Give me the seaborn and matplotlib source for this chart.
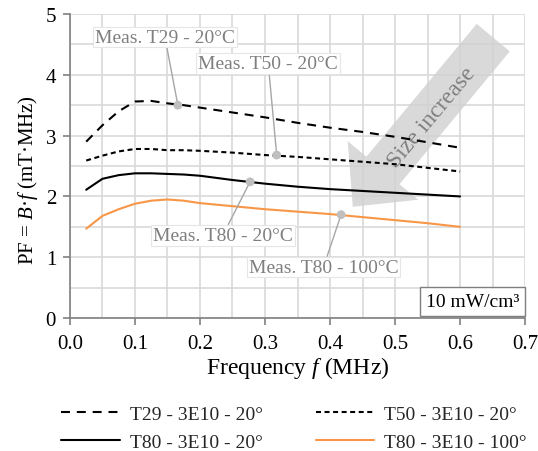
import matplotlib
matplotlib.use("Agg")
import matplotlib.pyplot as plt
import seaborn as sns
from matplotlib.ticker import MultipleLocator

# Power-factor curves PF = B*f versus frequency for four toroid sizes/temperatures
freq = [0.025, 0.05, 0.075, 0.1, 0.125, 0.15, 0.175, 0.2, 0.25, 0.3, 0.35, 0.4, 0.45, 0.5, 0.55, 0.6]
pf_t29_20 = [2.90, 3.17, 3.40, 3.56, 3.57, 3.53, 3.50, 3.46, 3.38, 3.30, 3.21, 3.13, 3.06, 2.98, 2.89, 2.80]
pf_t50_20 = [2.59, 2.67, 2.74, 2.78, 2.78, 2.76, 2.76, 2.75, 2.72, 2.68, 2.65, 2.61, 2.57, 2.53, 2.47, 2.41]
pf_t80_20 = [2.11, 2.29, 2.35, 2.38, 2.38, 2.37, 2.36, 2.34, 2.27, 2.21, 2.16, 2.12, 2.09, 2.06, 2.03, 2.00]
pf_t80_100 = [1.47, 1.68, 1.79, 1.88, 1.93, 1.95, 1.93, 1.89, 1.84, 1.79, 1.75, 1.71, 1.66, 1.61, 1.56, 1.50]

series_labels = ["T29 - 3E10 - 20°", "T50 - 3E10 - 20°", "T80 - 3E10 - 20°", "T80 - 3E10 - 100°"]

# Measurement points and their callouts
meas_labels = ["Meas. T29 - 20°C", "Meas. T50 - 20°C", "Meas. T80 - 20°C", "Meas. T80 - 100°C"]
meas_x = [0.166, 0.318, 0.277, 0.417]
meas_y = [3.50, 2.68, 2.24, 1.70]
label_x = [0.146, 0.305, 0.235, 0.390]
label_y = [4.62, 4.18, 1.36, 0.84]

SERIF = ["Liberation Serif", "DejaVu Serif"]

sns.set_theme(style="whitegrid")
plt.rcParams["font.family"] = SERIF
plt.rcParams["mathtext.fontset"] = "custom"
plt.rcParams["mathtext.rm"] = "Liberation Serif"
plt.rcParams["mathtext.it"] = "Liberation Serif:italic"

fig = plt.figure(figsize=(5.38, 4.52), dpi=100)
ax = fig.add_axes([0.130, 0.294, 0.846, 0.673])

grid_c = "#d9d9d9"
ax.set_facecolor("white")

# "Size increase" arrow behind the curves
ax.annotate("", xy=(0.435, 1.83), xytext=(0.651, 4.61),
            arrowprops=dict(arrowstyle="simple,head_width=6.6,head_length=3.4,tail_width=3.1",
                            mutation_scale=10, color="#d0d0d0", alpha=0.8, lw=0,
                            shrinkA=0, shrinkB=0), zorder=1)
ax.text(0.557, 3.30, "Size increase", rotation=50, ha="center", va="center",
        fontsize=17, color="#7f7f7f", rotation_mode="anchor", zorder=2)

all_pf = [pf_t29_20, pf_t50_20, pf_t80_20, pf_t80_100]
colors = ["black", "black", "black", "#f79646"]
dashes = [(4.3, 3.3), (2.4, 1.7), None, None]
for vals, lab, col, d in zip(all_pf, series_labels, colors, dashes):
    sns.lineplot(x=freq, y=vals, ax=ax, color=col, label=lab, linewidth=1.5, zorder=4)
    line = ax.lines[-1]
    if d is not None:
        line.set_dashes(d)

# Measurement markers with callouts
for lab, mx, my, lx, ly in zip(meas_labels, meas_x, meas_y, label_x, label_y):
    ax.annotate(lab, xy=(mx, my), xytext=(lx, ly), ha="center", va="center",
                fontsize=14, color="#7f7f7f", zorder=6,
                bbox=dict(boxstyle="square,pad=0.1", fc="white", ec="#e6e6e6", lw=0.8),
                arrowprops=dict(arrowstyle="-", color="#a6a6a6", lw=1.0,
                                shrinkA=0, shrinkB=0))
sns.scatterplot(x=meas_x, y=meas_y, ax=ax, color="#bfbfbf", s=40, edgecolor="none", zorder=7)

ax.set_xlim(0, 0.7)
ax.set_ylim(0, 5)
ax.xaxis.set_major_locator(MultipleLocator(0.1))
ax.xaxis.set_minor_locator(MultipleLocator(0.05))
ax.yaxis.set_major_locator(MultipleLocator(1))
ax.yaxis.set_minor_locator(MultipleLocator(0.5))
ax.set_xticks(ax.get_xticks())
ax.set_xticklabels([f"{v:.1f}" for v in ax.get_xticks()])
ax.grid(True, which="both", color=grid_c, linewidth=1.2)
ax.set_axisbelow(True)
for s in ["top", "right"]:
    ax.spines[s].set_visible(False)
for s in ["left", "bottom"]:
    ax.spines[s].set_color("#808080")
    ax.spines[s].set_linewidth(1.2)
    ax.spines[s].set_zorder(3)
ax.tick_params(which="major", direction="out", length=5, width=1.2, color="#808080",
               labelsize=15, labelcolor="black")
ax.tick_params(axis="x", pad=6.5, bottom=True)
ax.tick_params(axis="y", pad=5, left=True)
ax.tick_params(which="minor", length=0)
for t in ax.get_xticklabels() + ax.get_yticklabels():
    t.set_fontfamily(SERIF)
ax.set_xlim(0, 0.7)

ax.set_xlabel(r"Frequency $f$ (MHz)", fontsize=17, color="black", labelpad=1)
ax.set_ylabel(r"PF = $B$·$f$ (mT·MHz)", fontsize=15, color="black")
ax.yaxis.set_label_coords(-0.066, 0.457)

ax.text(0.987, 0.026, "10 mW/cm³", transform=ax.transAxes, ha="right", va="bottom",
        fontsize=14, color="black", zorder=8,
        bbox=dict(boxstyle="square,pad=0.3", fc="white", ec="#7f7f7f", lw=1.0))

# Legend filled column-wise: row 1 = T29 | T50, row 2 = T80 20° | T80 100°
handles, labels = ax.get_legend_handles_labels()
order = [0, 2, 1, 3]
ax.legend([handles[i] for i in order], [labels[i] for i in order],
          loc="upper center", bbox_to_anchor=(0.492, -0.23), ncol=2,
          frameon=False, fontsize=14, handlelength=3.0, columnspacing=2.73,
          labelspacing=0.5, handletextpad=0.5, prop={"family": SERIF, "size": 14})

fig.savefig("out.png", dpi=100, facecolor="white")
